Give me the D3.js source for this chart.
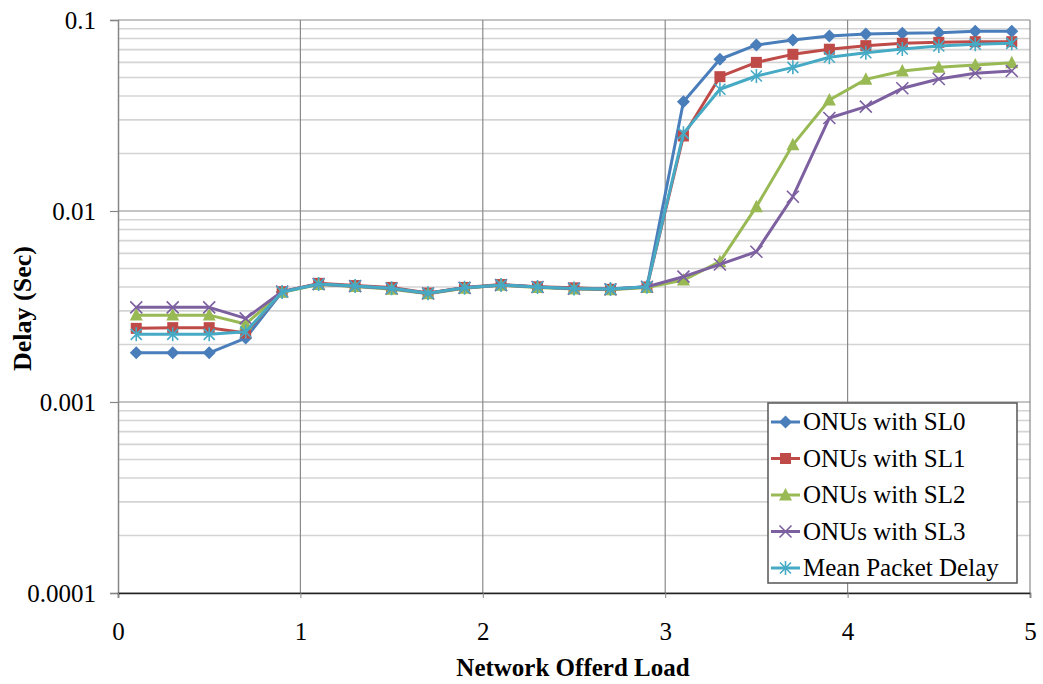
<!DOCTYPE html>
<html>
<head>
<meta charset="utf-8">
<script src="https://cdn.jsdelivr.net/npm/d3@7"></script>
<style>
  body { margin: 0; background: #fff; }
</style>
</head>
<body>
<svg id="chart" width="1043" height="684"></svg>
<script>
// Network offered load (x) and delay in seconds (y, log scale)
const loads = [0.1, 0.3, 0.5, 0.7, 0.9, 1.1, 1.3, 1.5, 1.7, 1.9, 2.1, 2.3, 2.5, 2.7, 2.9, 3.1, 3.3, 3.5, 3.7, 3.9, 4.1, 4.3, 4.5, 4.7, 4.9];

const sl0 = [0.00181, 0.00181, 0.00181, 0.00216, 0.00377, 0.00415, 0.00405, 0.00394, 0.00371, 0.00397, 0.0041, 0.0040, 0.00393, 0.0039, 0.00401, 0.0373, 0.0623, 0.0740, 0.0786, 0.0825, 0.0845, 0.0852, 0.0858, 0.0873, 0.0873];
const sl1 = [0.00243, 0.00245, 0.00245, 0.0023, 0.00378, 0.00418, 0.00407, 0.00398, 0.00372, 0.00398, 0.00412, 0.00401, 0.00396, 0.00389, 0.004, 0.0247, 0.0505, 0.0600, 0.0661, 0.0703, 0.0734, 0.0755, 0.0764, 0.0770, 0.0770];
const sl2 = [0.00285, 0.00285, 0.00285, 0.00256, 0.00375, 0.00412, 0.00403, 0.00389, 0.00369, 0.00394, 0.00408, 0.00398, 0.00391, 0.00387, 0.00398, 0.00435, 0.00543, 0.01054, 0.0222, 0.0381, 0.0489, 0.0541, 0.0565, 0.0581, 0.0598];
const sl3 = [0.00313, 0.00313, 0.00313, 0.00274, 0.00379, 0.00414, 0.00404, 0.00393, 0.0037, 0.00396, 0.00409, 0.004, 0.00392, 0.00389, 0.00401, 0.00453, 0.00525, 0.00612, 0.01188, 0.0307, 0.0352, 0.0439, 0.0491, 0.0526, 0.0541];
const meanDelay = [0.00226, 0.00226, 0.00226, 0.00233, 0.00377, 0.00415, 0.00405, 0.00394, 0.00371, 0.00397, 0.0041, 0.004, 0.00393, 0.0039, 0.00401, 0.0255, 0.0434, 0.0509, 0.0565, 0.0638, 0.0674, 0.0705, 0.0731, 0.0746, 0.0755];

const seriesNames = ["ONUs with SL0", "ONUs with SL1", "ONUs with SL2", "ONUs with SL3", "Mean Packet Delay"];
const seriesValues = [sl0, sl1, sl2, sl3, meanDelay];
const seriesColors = ["#4a7ebb", "#be4b48", "#98b954", "#7d60a0", "#46aac5"];
const seriesMarkers = ["diamond", "square", "triangle", "x", "star"];

const xTicks = [0, 1, 2, 3, 4, 5];
const yTicks = [0.0001, 0.001, 0.01, 0.1];
const yTickLabels = ["0.0001", "0.001", "0.01", "0.1"];

const FONT = '"Liberation Serif", "Times New Roman", serif';

const margin = { top: 20, right: 13, bottom: 91, left: 118 };
const width = 1043, height = 684;
const innerW = width - margin.left - margin.right;
const innerH = height - margin.top - margin.bottom;

const svg = d3.select("#chart");
const g = svg.append("g").attr("transform", `translate(${margin.left},${margin.top})`);

const x = d3.scaleLinear().domain([0, 5]).range([0, innerW]);
const y = d3.scaleLog().domain([0.0001, 0.1]).range([innerH, 0]);

// minor grid lines (2..9 in every decade)
const minor = [];
[0.0001, 0.001, 0.01].forEach(d => { for (let k = 2; k <= 9; k++) minor.push(d * k); });
g.append("g").selectAll("line").data(minor).enter().append("line")
    .attr("x1", 0).attr("x2", innerW)
    .attr("y1", d => y(d)).attr("y2", d => y(d))
    .attr("stroke", "#d4d4d4").attr("stroke-width", 1.6);

// major grid
g.append("g").selectAll("line").data(yTicks).enter().append("line")
    .attr("x1", 0).attr("x2", innerW)
    .attr("y1", d => y(d)).attr("y2", d => y(d))
    .attr("stroke", "#8a8a8a").attr("stroke-width", 1.2);
g.append("g").selectAll("line").data(xTicks.slice(1)).enter().append("line")
    .attr("x1", d => x(d)).attr("x2", d => x(d))
    .attr("y1", 0).attr("y2", innerH)
    .attr("stroke", "#8a8a8a").attr("stroke-width", 1.2);

// axes
const yAxis = g.append("g")
    .call(d3.axisLeft(y).tickValues(yTicks).tickFormat((d, i) => yTickLabels[i]).tickSize(8).tickPadding(14));
yAxis.select(".domain").attr("stroke", "#868686").attr("stroke-width", 1.5);
yAxis.selectAll(".tick line").attr("stroke", "#868686").attr("stroke-width", 1.2);
yAxis.selectAll("text").style("font-size", "25px").attr("dy", "0.32em");

const xAxis = g.append("g").attr("transform", `translate(0,${innerH})`)
    .call(d3.axisBottom(x).tickValues(xTicks).tickFormat(d3.format("d")).tickSize(5).tickPadding(24));
xAxis.select(".domain").attr("stroke", "#222").attr("stroke-width", 1.5);
xAxis.selectAll(".tick line").attr("stroke", "#868686");
xAxis.selectAll("text").style("font-size", "25px");

// axis titles
svg.append("text")
    .attr("x", margin.left + innerW / 2 - 1)
    .attr("y", 676)
    .attr("text-anchor", "middle")
    .style("font-size", "25px").style("font-weight", "bold")
    .text("Network Offerd Load");

svg.append("text")
    .attr("transform", `translate(31,${margin.top + innerH / 2 + 2}) rotate(-90)`)
    .attr("text-anchor", "middle")
    .style("font-size", "26px").style("font-weight", "bold")
    .text("Delay (Sec)");

// marker drawing
function drawMarker(sel, type, color) {
    if (type === "diamond") {
        sel.append("path").attr("d", "M0,-6.5L6.5,0L0,6.5L-6.5,0Z").attr("fill", color);
    } else if (type === "square") {
        sel.append("rect").attr("x", -5.5).attr("y", -5.5).attr("width", 11).attr("height", 11).attr("fill", color);
    } else if (type === "triangle") {
        sel.append("path").attr("d", "M0,-7L6.5,5.5L-6.5,5.5Z").attr("fill", color);
    } else if (type === "x") {
        sel.append("path").attr("d", "M-6,-6L6,6M-6,6L6,-6").attr("stroke", color).attr("stroke-width", 1.6).attr("fill", "none");
    } else if (type === "star") {
        sel.append("path").attr("d", "M-5.5,-5.5L5.5,5.5M-5.5,5.5L5.5,-5.5M0,-7L0,7").attr("stroke", color).attr("stroke-width", 1.6).attr("fill", "none");
    }
}

const line = d3.line().x(d => x(d[0])).y(d => y(d[1]));

seriesValues.forEach((vals, si) => {
    const pts = loads.map((l, i) => [l, vals[i]]);
    const sg = g.append("g");
    sg.append("path").datum(pts)
        .attr("d", line)
        .attr("fill", "none")
        .attr("stroke", seriesColors[si])
        .attr("stroke-width", 3)
        .attr("stroke-linejoin", "round");
    sg.selectAll("g.m").data(pts).enter().append("g")
        .attr("class", "m")
        .attr("transform", d => `translate(${x(d[0])},${y(d[1])})`)
        .each(function () { drawMarker(d3.select(this), seriesMarkers[si], seriesColors[si]); });
});

// legend
const legend = svg.append("g").attr("transform", "translate(768,403)");
legend.append("rect")
    .attr("width", 249).attr("height", 180)
    .attr("fill", "#fff").attr("stroke", "#555").attr("stroke-width", 1.5);

seriesNames.forEach((name, i) => {
    const row = legend.append("g").attr("transform", `translate(0,${19 + i * 36.5})`);
    row.append("line").attr("x1", 3).attr("x2", 32).attr("y1", 0).attr("y2", 0)
        .attr("stroke", seriesColors[i]).attr("stroke-width", 3);
    const m = row.append("g").attr("transform", "translate(17.5,0)");
    drawMarker(m, seriesMarkers[i], seriesColors[i]);
    row.append("text").attr("x", 35).attr("y", 0).attr("dy", "0.33em")
        .style("font-size", "25px")
        .text(name);
});

// serif font on every text (axis groups set sans-serif by default)
svg.selectAll("text").style("font-family", FONT).style("fill", "#000");
</script>
</body>
</html>
